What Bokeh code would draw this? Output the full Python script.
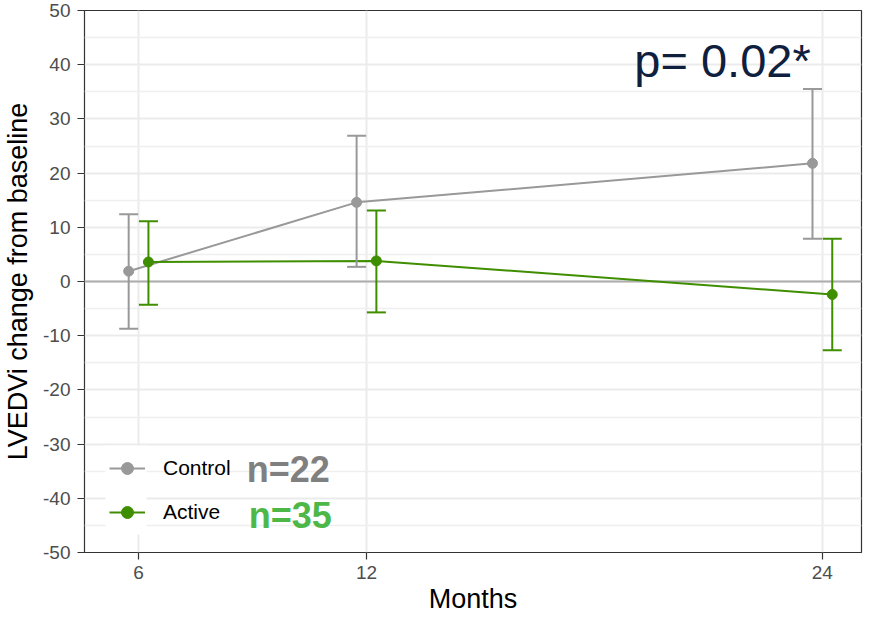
from bokeh.plotting import figure
from bokeh.models import (ColumnDataSource, Range1d, FixedTicker, Whisker, TeeHead,
                          Span, Label, Legend, LegendItem, BoxAnnotation)
from bokeh.embed import file_html
from bokeh.resources import INLINE

# ---- data ----
months = [6, 12, 24]
groups = ["Control", "Active"]
control_mean = [1.9, 14.6, 21.8]
control_lower = [-8.7, 2.7, 7.9]
control_upper = [12.4, 26.9, 35.5]
active_mean = [3.6, 3.8, -2.4]
active_lower = [-4.3, -5.7, -12.7]
active_upper = [11.1, 13.1, 7.9]
y_ticks = [-50, -40, -30, -20, -10, 0, 10, 20, 30, 40, 50]
y_minor = [-45, -35, -25, -15, -5, 5, 15, 25, 35, 45]
p_text = "p= 0.02*"
n_texts = ["n=22", "n=35"]

FONT = "Liberation Sans"
DODGE = 0.26
GRAY = "#999999"
GREEN = "#3F8E00"

p = figure(width=877, height=617, output_backend="svg", toolbar_location=None,
           x_range=Range1d(4.577, 25.03), y_range=Range1d(-50, 50),
           min_border_left=84, min_border_right=16, min_border_top=10, min_border_bottom=65)
p.background_fill_color = "white"
p.border_fill_color = "white"
p.outline_line_color = "#333333"
p.outline_line_width = 1.2

# axes
p.xaxis.ticker = FixedTicker(ticks=months)
p.yaxis.ticker = FixedTicker(ticks=y_ticks, minor_ticks=y_minor)
p.xgrid.ticker = FixedTicker(ticks=months)
p.ygrid.ticker = FixedTicker(ticks=y_ticks, minor_ticks=y_minor)
p.yaxis.major_label_overrides = {t: str(t) for t in y_ticks}
for ax in (p.xaxis, p.yaxis):
    ax.axis_line_color = None
    ax.major_tick_line_color = "#333333"
    ax.major_tick_line_width = 1.2
    ax.major_tick_out = 7
    ax.major_tick_in = 0
    ax.minor_tick_line_color = None
    ax.major_label_text_color = "#4D4D4D"
    ax.major_label_text_font = FONT
    ax.major_label_text_font_size = "19px"
    ax.axis_label_text_font = FONT
    ax.axis_label_text_font_size = "27px"
    ax.axis_label_text_font_style = "normal"
    ax.axis_label_text_color = "black"
p.xaxis.axis_label = "Months"
p.yaxis.axis_label = "LVEDVi change from baseline"
p.xaxis.major_label_standoff = 6
p.yaxis.major_label_standoff = 7
p.xaxis.axis_label_standoff = 2
p.yaxis.axis_label_standoff = 7

p.xgrid.grid_line_color = "#EBEBEB"
p.xgrid.grid_line_width = 2
p.ygrid.grid_line_color = "#EBEBEB"
p.ygrid.grid_line_width = 2
p.ygrid.minor_grid_line_color = "#EFEFEF"
p.ygrid.minor_grid_line_width = 1.5

# white legend key background
p.add_layout(BoxAnnotation(left=5.13, right=6.211, bottom=-46.68, top=-30.26,
                           fill_color="white", fill_alpha=1, line_color=None,
                           level="underlay"))

# zero line
p.add_layout(Span(location=0, dimension="width", line_color="#ADADAD",
                  line_width=2, level="underlay"))

items = []
series = [
    (groups[0], control_mean, control_lower, control_upper, GRAY, -1),
    (groups[1], active_mean, active_lower, active_upper, GREEN, 1),
]
for name, mean, lo, hi, color, sign in series:
    xs = [m + sign * DODGE for m in months]
    src = ColumnDataSource(dict(x=xs, y=mean, lower=lo, upper=hi))
    w = Whisker(source=src, base="x", upper="upper", lower="lower", dimension="height",
                line_color=color, line_width=2, level="glyph",
                upper_head=TeeHead(size=19, line_color=color, line_width=2),
                lower_head=TeeHead(size=19, line_color=color, line_width=2))
    p.add_layout(w)
    ln = p.line("x", "y", source=src, line_color=color, line_width=2)
    sc = p.scatter("x", "y", source=src, size=10, fill_color=color, line_color=color)
    items.append(LegendItem(label=name, renderers=[ln, sc]))

legend = Legend(items=items, location="bottom_left", margin=25, padding=0, spacing=14,
                glyph_width=36, glyph_height=30, label_height=30, label_standoff=18,
                label_text_font=FONT, label_text_font_size="21px", label_text_color="black",
                background_fill_alpha=0, border_line_color=None)
p.add_layout(legend)

p.add_layout(Label(x=19.05, y=40.8, text=p_text, text_font=FONT, text_font_size="47px",
                   text_color="#0F203F", text_baseline="alphabetic"))
p.add_layout(Label(x=8.85, y=-34.7, text=n_texts[0], text_font=FONT, text_font_size="36px",
                   text_font_style="bold", text_color="#808080", text_baseline="alphabetic"))
p.add_layout(Label(x=8.9, y=-43.2, text=n_texts[1], text_font=FONT, text_font_size="36px",
                   text_font_style="bold", text_color="#4DB848", text_baseline="alphabetic"))

open("out.html", "w").write(file_html(p, INLINE))
